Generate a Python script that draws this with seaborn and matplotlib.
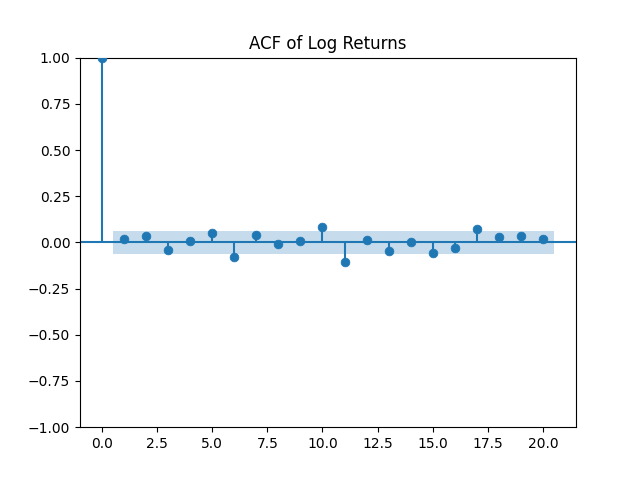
import numpy as np
import pandas as pd
import matplotlib
matplotlib.use("Agg")
import matplotlib.pyplot as plt
import seaborn as sns

lags = list(range(21))
acf_vals = [1.0, 0.02, 0.035, -0.04, 0.005, 0.05, -0.08, 0.04, -0.01, 0.005,
            0.085, -0.105, 0.015, -0.045, 0.0, -0.055, -0.03, 0.075, 0.03, 0.035, 0.02]
conf = 0.063

df = pd.DataFrame({"lag": lags, "acf": acf_vals})

fig, ax = plt.subplots(figsize=(6.4, 4.8), dpi=100)
ax.vlines(df["lag"], 0, df["acf"], color="#1f77b4")
ax.axhline(0, color="#1f77b4")
sns.scatterplot(data=df, x="lag", y="acf", ax=ax, color="#1f77b4", s=40, edgecolor="#1f77b4", zorder=3)
band_x = np.array(lags[1:]) 
ax.fill_between([band_x[0] - 0.5, band_x[-1] + 0.5], -conf, conf, alpha=0.25, color="#1f77b4", linewidth=0)
ax.set_xlim(-1, 21.5)
ax.set_ylim(-1, 1)
ax.set_xlabel("")
ax.set_ylabel("")
ax.set_title("ACF of Log Returns")
fig.savefig("out.png")
